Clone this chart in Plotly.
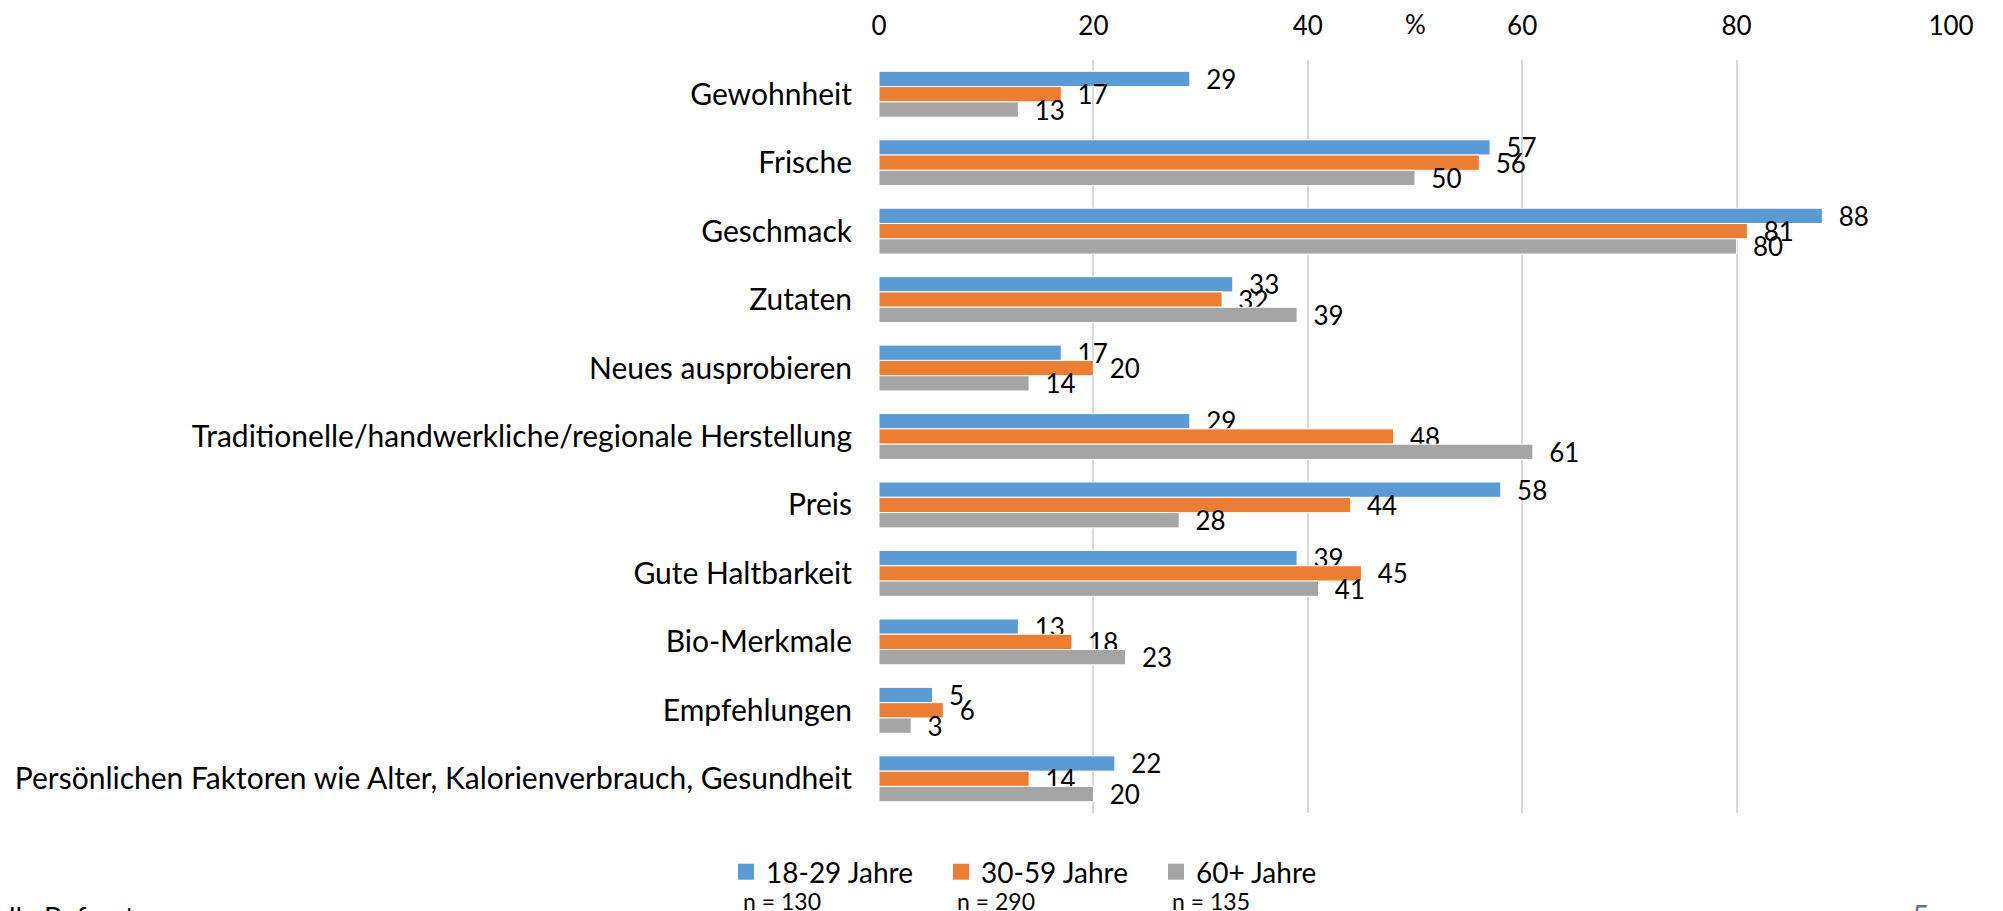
import plotly.graph_objects as go

categories = [
    "Gewohnheit",
    "Frische",
    "Geschmack",
    "Zutaten",
    "Neues ausprobieren",
    "Traditionelle/handwerkliche/regionale Herstellung",
    "Preis",
    "Gute Haltbarkeit",
    "Bio-Merkmale",
    "Empfehlungen",
    "Persönlichen Faktoren wie Alter, Kalorienverbrauch, Gesundheit",
]
series_names = ["18-29 Jahre", "30-59 Jahre", "60+ Jahre"]
sample_sizes = ["n = 130", "n = 290", "n = 135"]
values_18_29 = [29, 57, 88, 33, 17, 29, 58, 39, 13, 5, 22]
values_30_59 = [17, 56, 81, 32, 20, 48, 44, 45, 18, 6, 14]
values_60p = [13, 50, 80, 39, 14, 61, 28, 41, 23, 3, 20]
tick_values = [0, 20, 40, 60, 80, 100]

colors = ["#5B9BD5", "#ED7D31", "#A5A5A5"]
FONT = "Lato"

# page body has an 8px margin; figure coordinates = reference pixels - 8
OFF = 8
W, H = 2003 - OFF, 911 - OFF
L, R, T, B = 871, 52, 52, 98
plot_w = W - L - R
plot_h = H - T - B

fig = go.Figure()
for name, vals, col in zip(series_names, [values_18_29, values_30_59, values_60p], colors):
    fig.add_trace(go.Bar(
        y=categories, x=vals, name=name, orientation="h",
        marker=dict(color=col, line=dict(width=1, color="white")),
        text=vals, texttemplate="\u00a0\u00a0%{x}", textposition="outside",
        textfont=dict(family=FONT, size=26, color="#000000"),
        constraintext="none", cliponaxis=False,
        hoverinfo="skip", showlegend=False, legendgroup=name,
    ))
# legend entries with larger square swatches
for name, col in zip(series_names, colors):
    fig.add_trace(go.Scatter(
        x=[None], y=[None], mode="markers", name=name, legendgroup=name,
        marker=dict(symbol="square", size=17, color=col), hoverinfo="skip",
    ))

def px_x(p):
    return (p - OFF - L) / plot_w

def px_y(p):
    return (H - B - (p - OFF)) / plot_h

annotations = [
    dict(text="%", x=50, xref="x", y=px_y(24), yref="paper", showarrow=False,
         font=dict(family=FONT, size=26, color="#000000"), xanchor="center", yanchor="middle"),
    dict(text="Alle Befragten", x=px_x(-12), xref="paper", y=px_y(898), yref="paper",
         showarrow=False, xanchor="left", yanchor="top",
         font=dict(family=FONT, size=28, color="#000000")),
    dict(text="5", x=px_x(1920), xref="paper", y=px_y(895), yref="paper",
         showarrow=False, xanchor="center", yanchor="top",
         font=dict(family=FONT, size=30, color="#5d7584")),
]
for xpx, s in zip([741, 955, 1170], sample_sizes):
    annotations.append(dict(text=s, x=px_x(xpx), xref="paper", y=px_y(901), yref="paper",
                            showarrow=False, xanchor="left", yanchor="middle",
                            font=dict(family=FONT, size=23, color="#000000")))

fig.update_layout(
    width=W, height=H,
    margin=dict(l=L, r=R, t=T, b=B, autoexpand=False),
    paper_bgcolor="white", plot_bgcolor="white",
    barmode="group", bargap=0.33, bargroupgap=0,
    font=dict(family=FONT, color="#000000"),
    xaxis=dict(side="top", range=[0, 100], tickvals=tick_values, showgrid=True,
               gridcolor="#D9D9D9", gridwidth=1.5, zeroline=False, showline=False,
               ticks="", tickfont=dict(family=FONT, size=26, color="#000000"),
               ticklabelstandoff=19, fixedrange=True),
    yaxis=dict(autorange="reversed", showgrid=False, zeroline=False, showline=False,
               ticks="", tickfont=dict(family=FONT, size=30, color="#000000"),
               ticklabelstandoff=26, fixedrange=True),
    legend=dict(orientation="h", x=px_x(726), xanchor="left", y=px_y(847), yanchor="top",
                font=dict(family=FONT, size=28, color="#000000"),
                entrywidth=170, entrywidthmode="pixels", bgcolor="rgba(0,0,0,0)"),
    annotations=annotations,
    showlegend=True,
)

fig.write_html("out.html")
